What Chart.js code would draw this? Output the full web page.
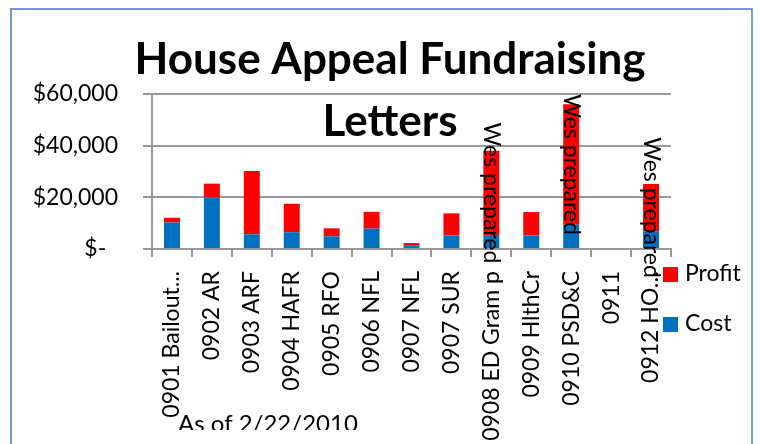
<!DOCTYPE html>
<html lang="en">
<head>
<meta charset="UTF-8">
<title>House Appeal Fundraising Letters</title>
<script src="https://cdn.jsdelivr.net/npm/chart.js"></script>
<style>
  html, body { margin: 0; padding: 0; background: #fff; overflow: hidden; }
</style>
</head>
<body>
<canvas id="appealChart" width="760" height="444"></canvas>
<script>
// data
const categories = ['0901 Bailout...', '0902 AR', '0903 ARF', '0904 HAFR', '0905 RFO', '0906 NFL',
    '0907 NFL', '0907 SUR', '0908 ED Gram p', '0909 HlthCr', '0910 PSD&C', '0911', '0912 HO\u2026'];
const costValues = [10300, 20000, 5700, 6500, 4900, 7900, 1500, 5300, 5400, 5300, 9400, 0, 6900];
const profitValues = [1800, 5300, 24500, 11000, 3100, 6500, 800, 8500, 32600, 9000, 46600, 0, 18300];
const profitNotes = ['', '', '', '', '', '', '', '', 'Wes prepared', '', 'Wes prepared', '', 'Wes prepared'];
const yTickLabels = ['$-  ', '$20,000', '$40,000', '$60,000'];
const titleLines = ['House Appeal Fundraising', 'Letters'];
const footNote = 'As of 2/22/2010';

const FONT = 'Lato, "Open Sans", sans-serif';
Chart.defaults.font.family = FONT;
Chart.defaults.color = '#000';

// title, notes, legend and frame are drawn by hand (Excel-style overlap)
const overlay = {
    id: 'overlay',
    beforeDraw(chart) {
        const ctx = chart.ctx;
        ctx.save();
        ctx.strokeStyle = '#7796cf';
        ctx.lineWidth = 2;
        ctx.strokeRect(11, 9, 741, 500);
        ctx.restore();
    },
    afterDatasetsDraw(chart) {
        const ctx = chart.ctx;
        const meta = chart.getDatasetMeta(1);
        ctx.save();
        ctx.fillStyle = '#000';
        ctx.font = '23px ' + FONT;
        ctx.textAlign = 'center';
        ctx.textBaseline = 'middle';
        meta.data.forEach((bar, i) => {
            if (!profitNotes[i]) return;
            ctx.save();
            ctx.translate(bar.x, (bar.y + bar.base) / 2);
            ctx.rotate(Math.PI / 2);
            ctx.fillText(profitNotes[i], 0, 0);
            ctx.restore();
        });
        ctx.restore();
    },
    afterDraw(chart) {
        const ctx = chart.ctx;
        ctx.save();
        ctx.fillStyle = '#000';
        ctx.textAlign = 'center';
        ctx.textBaseline = 'alphabetic';
        ctx.font = 'bold 44px ' + FONT;
        ctx.fillText(titleLines[0], 390, 74);
        ctx.fillText(titleLines[1], 390, 136);

        // legend, reversed like Excel
        ctx.textAlign = 'left';
        ctx.textBaseline = 'middle';
        ctx.font = '23px ' + FONT;
        const sets = chart.data.datasets.slice().reverse();
        sets.forEach((ds, i) => {
            const y = 274 + i * 50;
            ctx.fillStyle = ds.backgroundColor;
            ctx.fillRect(663, y - 7, 15, 15);
            ctx.fillStyle = '#000';
            ctx.fillText(ds.label, 685, y);
        });

        // footnote, clipped at the bottom like the source
        ctx.beginPath();
        ctx.rect(0, 400, 760, 30);
        ctx.clip();
        ctx.font = '24px ' + FONT;
        ctx.textBaseline = 'alphabetic';
        ctx.fillText(footNote, 178, 432);
        ctx.restore();
    }
};

const ctx = document.getElementById('appealChart').getContext('2d');
const appealChart = new Chart(ctx, {
    type: 'bar',
    data: {
        labels: categories,
        datasets: [
            { label: 'Cost', data: costValues, backgroundColor: '#0070C0' },
            { label: 'Profit', data: profitValues, backgroundColor: '#FF0000' }
        ]
    },
    options: {
        responsive: false,
        animation: false,
        layout: { padding: { top: 94, right: 89, left: 0, bottom: 0 } },
        barPercentage: 0.4,
        categoryPercentage: 1.0,
        plugins: {
            legend: { display: false },
            title: { display: false },
            tooltip: { enabled: false }
        },
        scales: {
            x: {
                stacked: true,
                afterFit: (scale) => { scale.height = 195; },
                grid: { display: true, drawOnChartArea: false, drawTicks: true, tickLength: 8, offset: true, color: '#999', lineWidth: 2 },
                border: { color: '#999', width: 2 },
                ticks: { autoSkip: false, minRotation: 90, maxRotation: 90, padding: 14, font: { size: 23 }, color: '#000' }
            },
            y: {
                stacked: true,
                min: 0,
                max: 60000,
                afterFit: (scale) => { scale.width = 152; },
                grid: { color: '#999', lineWidth: 2, tickLength: 9 },
                border: { color: '#999', width: 2 },
                ticks: {
                    stepSize: 20000,
                    padding: 25,
                    font: { size: 23 },
                    color: '#000',
                    callback: (value, index) => yTickLabels[index]
                }
            }
        }
    },
    plugins: [overlay]
});
</script>
</body>
</html>
